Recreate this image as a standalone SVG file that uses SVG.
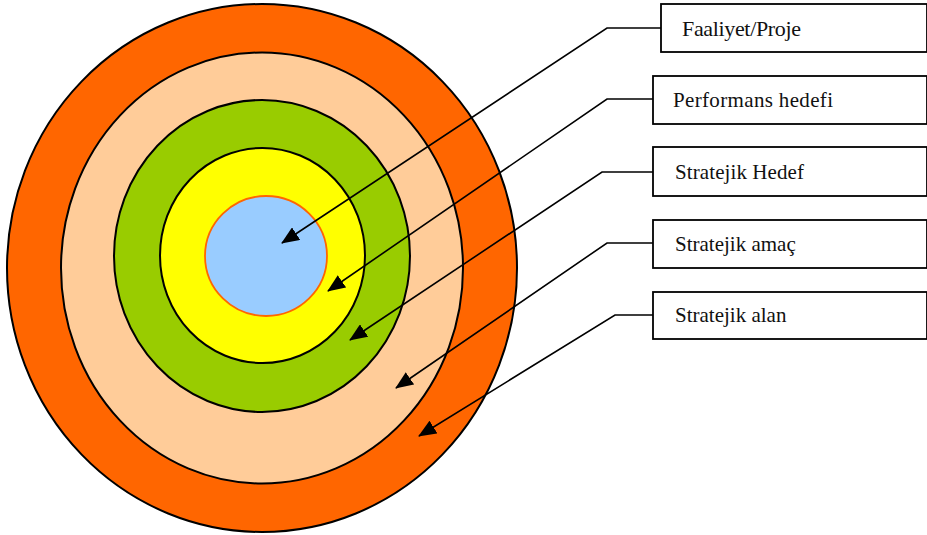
<svg xmlns="http://www.w3.org/2000/svg" width="927" height="535" viewBox="0 0 927 535">
  <style>
    .ring { stroke: #000; stroke-width: 2; }
    .box { fill: #fff; stroke: #000; stroke-width: 1.8; }
    .lbl { font-family: 'Liberation Serif', 'Times New Roman', 'DejaVu Serif', serif; font-size: 21px; fill: #111; }
    .big { font-size: 22px; }
    .conn { fill: none; stroke: #000; stroke-width: 1.6; marker-end: url(#arrow); }
  </style>
  <defs>
    <marker id="arrow" markerUnits="userSpaceOnUse" markerWidth="19" markerHeight="15" refX="17" refY="7.5" orient="auto">
      <path d="M0,0 L18,7.5 L0,15 z" fill="#000"/>
    </marker>
  </defs>
  <rect width="927" height="535" fill="#fff"/>
  <g id="rings">
    <ellipse id="strategic-area" class="ring" cx="262" cy="268" rx="255" ry="264" fill="#FF6600"/>
    <ellipse id="strategic-goal" class="ring" cx="262" cy="268" rx="201" ry="215.5" fill="#FFCC99"/>
    <ellipse id="strategic-target" class="ring" cx="262" cy="256" rx="148" ry="156" fill="#99CC00"/>
    <ellipse id="performance-target" class="ring" cx="262.5" cy="255.5" rx="102.5" ry="107.5" fill="#FFFF00"/>
    <ellipse id="activity" cx="266" cy="256" rx="61" ry="60" fill="#99CCFF" stroke="#FF6600" stroke-width="1.8"/>
  </g>
  <g id="node-faaliyet">
    <rect class="box" x="661" y="4" width="266" height="48"/>
    <text class="lbl big" x="682" y="35.5" textLength="119" lengthAdjust="spacing">Faaliyet/Proje</text>
  </g>
  <g id="node-performans">
    <rect class="box" x="653" y="76" width="274" height="48"/>
    <text class="lbl" x="673" y="107" textLength="160" lengthAdjust="spacing">Performans hedefi</text>
  </g>
  <g id="node-hedef">
    <rect class="box" x="653" y="147" width="274" height="49"/>
    <text class="lbl" x="675" y="179" textLength="129" lengthAdjust="spacing">Stratejik Hedef</text>
  </g>
  <g id="node-amac">
    <rect class="box" x="653" y="220" width="274" height="48"/>
    <text class="lbl" x="675" y="251">Stratejik amaç</text>
  </g>
  <g id="node-alan">
    <rect class="box" x="653" y="292" width="274" height="47"/>
    <text class="lbl" x="675" y="322">Stratejik alan</text>
  </g>
  <g id="connectors">
    <polyline class="conn" points="661,28 607,28 282,243"/>
    <polyline class="conn" points="653,99 607,99 328,291"/>
    <polyline class="conn" points="653,172 602,172 350,340"/>
    <polyline class="conn" points="653,243 607,243 396,388"/>
    <polyline class="conn" points="653,315 615,315 419,436"/>
  </g>
</svg>
